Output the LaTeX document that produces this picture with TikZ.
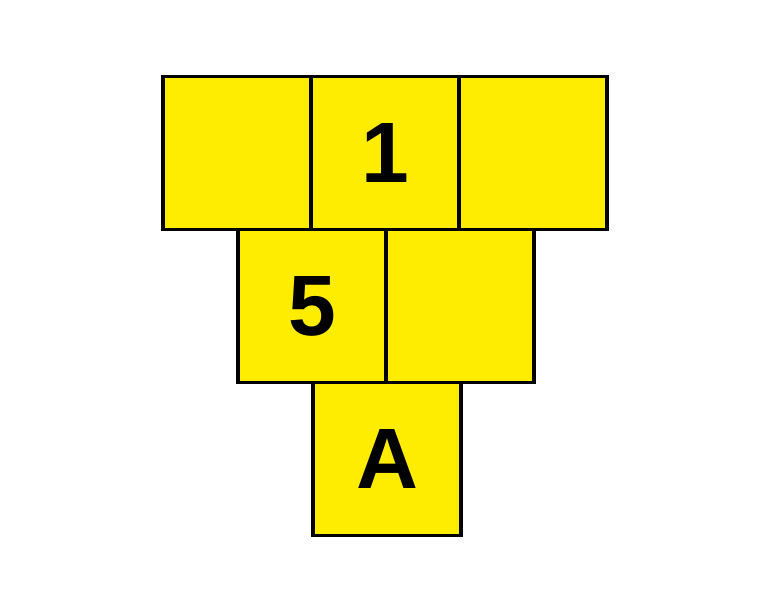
\documentclass[tikz,border=0pt]{standalone}
\usepackage{fontspec}
\setmainfont{Liberation Sans}
\usepackage{xcolor}
\usetikzlibrary{positioning}
\definecolor{netyellow}{RGB}{255,237,0}

\begin{document}
\begin{tikzpicture}[
    node distance=0cm,
    cell/.style={rectangle, fill=netyellow, outer sep=0pt, inner sep=0pt, minimum width=3.7cm, minimum height=3.825cm, font=\fontsize{61}{61}\selectfont\bfseries},
    edge/.style={line width=2.8pt}
]
\useasboundingbox (0,0) rectangle (19.25,15.25);
% top row
\node[cell] (topleft) at (5.925,11.425) {};
\node[cell, right=of topleft] (one) {1};
\node[cell, right=of one] (topright) {};
% middle row
\node[cell] (five) at (7.8,7.6) {5};
\node[cell, right=of five] (midright) {};
% bottom
\node[cell] (a) at (9.675,3.775) {A};
% outlines on top of the fills
\foreach \n in {topleft,one,topright,five,midright,a}
  \draw[edge] (\n.south west) rectangle (\n.north east);
\end{tikzpicture}
\end{document}
